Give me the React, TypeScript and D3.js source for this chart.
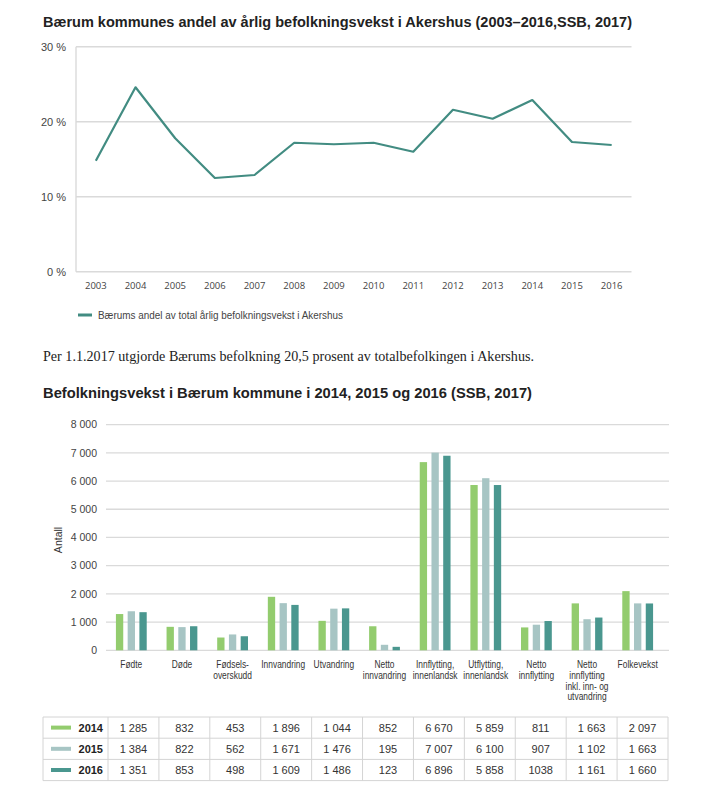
import React from 'react';
import * as d3 from 'd3';

// line chart data
const years = ['2003', '2004', '2005', '2006', '2007', '2008', '2009', '2010', '2011', '2012', '2013', '2014', '2015', '2016'];
const shareValues = [14.8, 24.6, 17.8, 12.5, 12.9, 17.2, 17.0, 17.2, 16.0, 21.6, 20.4, 22.9, 17.3, 16.9];
const shareTicks = [0, 10, 20, 30];

// bar chart data
const categories = [
  'Fødte', 'Døde', 'Fødselsoverskudd', 'Innvandring', 'Utvandring', 'Netto innvandring',
  'Innflytting, innenlandsk', 'Utflytting, innenlandsk', 'Netto innflytting',
  'Netto innflytting inkl. inn- og utvandring', 'Folkevekst',
];
const categoryLines = [
  ['Fødte'], ['Døde'], ['Fødsels-', 'overskudd'], ['Innvandring'], ['Utvandring'],
  ['Netto', 'innvandring'], ['Innflytting,', 'innenlandsk'], ['Utflytting,', 'innenlandsk'],
  ['Netto', 'innflytting'], ['Netto', 'innflytting', 'inkl. inn- og', 'utvandring'], ['Folkevekst'],
];
const seriesYears = ['2014', '2015', '2016'];
const values2014 = [1285, 832, 453, 1896, 1044, 852, 6670, 5859, 811, 1663, 2097];
const values2015 = [1384, 822, 562, 1671, 1476, 195, 7007, 6100, 907, 1102, 1663];
const values2016 = [1351, 853, 498, 1609, 1486, 123, 6896, 5858, 1038, 1161, 1660];
const countTicks = [0, 1000, 2000, 3000, 4000, 5000, 6000, 7000, 8000];
// the source table prints this one cell without a thousands space
const unspacedCells = ['2016:8'];

const seriesValues = [values2014, values2015, values2016];
const seriesColors = ['#93cc6e', '#a7c5c4', '#4a978f'];
const lineColor = '#428c82';
const gridColor = '#dadada';
const sans = '"Liberation Sans", Arial, sans-serif';

const nbFormat = d3.formatLocale({ decimal: ',', thousands: ' ', grouping: [3], currency: ['', ''] }).format(',d');

export default function App() {
  // ---- line chart scales
  const x = d3.scaleBand().domain(years).range([76, 631.5]);
  const y = d3.scaleLinear().domain([0, 30]).range([271.7, 46.8]);
  const line = d3.line<number>()
    .x((_, i) => (x(years[i]) || 0) + x.bandwidth() / 2)
    .y(d => y(d));

  // ---- bar chart scales
  const xb = d3.scaleBand().domain(categories).range([106, 663]);
  const xs = d3.scaleBand().domain(seriesYears).range([-15.4, 15.4]).paddingInner(0.376);
  const yb = d3.scaleLinear().domain([0, 8000]).range([650.3, 424.6]);

  // ---- table layout
  const tableTop = 717;
  const rowH = 21.2;
  const tableLeft = 43;
  const firstColRight = 108;
  const tableRight = 668;
  const colW = (tableRight - firstColRight) / categories.length;

  return (
    <div style={{ position: 'absolute', left: 0, top: 0 }}>
      <svg width={708} height={805} style={{ display: 'block', background: '#fff' }}>
        {/* ---------- chart 1 ---------- */}
        <text x={43} y={27} fontFamily={sans} fontWeight="bold" fontSize={15} fill="#222"
          textLength={589} lengthAdjust="spacingAndGlyphs">
          Bærum kommunes andel av årlig befolkningsvekst i Akershus (2003–2016,SSB, 2017)
        </text>

        {shareTicks.map(t => (
          <g key={t}>
            <line x1={76} x2={631.5} y1={y(t)} y2={y(t)} stroke={gridColor} strokeWidth={1.4} />
            <text x={66} y={y(t) + 4} textAnchor="end" fontFamily={sans} fontSize={11} fill="#444">
              {t} %
            </text>
          </g>
        ))}
        <line x1={76} x2={76} y1={y(30)} y2={y(0)} stroke={gridColor} strokeWidth={1.4} />

        {years.map(yr => (
          <text key={yr} x={(x(yr) || 0) + x.bandwidth() / 2} y={288.5} textAnchor="middle"
            fontFamily='"Open Sans", sans-serif' fontSize={9.5} fill="#444">
            {yr}
          </text>
        ))}

        <path d={line(shareValues) || ''} fill="none" stroke={lineColor} strokeWidth={2.2} strokeLinejoin="round" />

        <line x1={78} x2={92} y1={315} y2={315} stroke={lineColor} strokeWidth={3} />
        <text x={98} y={318.5} fontFamily={sans} fontSize={10} fill="#444" textLength={245} lengthAdjust="spacingAndGlyphs">
          Bærums andel av total årlig befolkningsvekst i Akershus
        </text>

        <text x={43} y={360.5} fontFamily='"Liberation Serif", "Times New Roman", serif' fontSize={15} fill="#222"
          textLength={491} lengthAdjust="spacingAndGlyphs">
          Per 1.1.2017 utgjorde Bærums befolkning 20,5 prosent av totalbefolkingen i Akershus.
        </text>

        {/* ---------- chart 2 ---------- */}
        <text x={43} y={398} fontFamily={sans} fontWeight="bold" fontSize={15} fill="#222"
          textLength={489} lengthAdjust="spacingAndGlyphs">
          Befolkningsvekst i Bærum kommune i 2014, 2015 og 2016 (SSB, 2017)
        </text>

        {countTicks.map(t => (
          <g key={t}>
            <line x1={106} x2={669} y1={yb(t)} y2={yb(t)} stroke={gridColor} strokeWidth={1.3} />
            <text x={97} y={yb(t) + 3.8} textAnchor="end" fontFamily={sans} fontSize={10.5} fill="#444">
              {nbFormat(t)}
            </text>
          </g>
        ))}

        <text transform="translate(62,540) rotate(-90)" textAnchor="middle" fontFamily={sans} fontSize={10.5} fill="#333">
          Antall
        </text>

        {categories.map((c, ci) => (
          <g key={c} transform={`translate(${(xb(c) || 0) + xb.bandwidth() / 2},0)`}>
            {seriesYears.map((s, si) => (
              <rect key={s} x={xs(s) || 0} width={xs.bandwidth()} y={yb(seriesValues[si][ci])}
                height={yb(0) - yb(seriesValues[si][ci])} fill={seriesColors[si]} />
            ))}
            {/* condensed look of the original labels */}
            <g transform="scale(0.8,1)">
              {categoryLines[ci].map((ln, li) => (
                <text key={li} x={0} y={668.5 + li * 10.6} textAnchor="middle" fontFamily={sans} fontSize={10.5} fill="#333">
                  {ln}
                </text>
              ))}
            </g>
          </g>
        ))}

        {/* ---------- table ---------- */}
        {seriesYears.map((s, si) => {
          const top = tableTop + si * rowH;
          const mid = top + rowH / 2;
          return (
            <g key={s}>
              <rect x={51} y={mid - 2} width={20} height={4} fill={seriesColors[si]} />
              <text x={103} y={mid + 4} textAnchor="end" fontFamily={sans} fontWeight="bold" fontSize={11} fill="#222">
                {s}
              </text>
              {seriesValues[si].map((v, ci) => (
                <text key={ci} x={firstColRight + colW * (ci + 0.5)} y={mid + 4} textAnchor="middle"
                  fontFamily={sans} fontSize={11} fill="#333">
                  {unspacedCells.includes(`${s}:${ci}`) ? String(v) : nbFormat(v)}
                </text>
              ))}
            </g>
          );
        })}
        {d3.range(seriesYears.length + 1).map(r => (
          <line key={`h${r}`} x1={tableLeft} x2={tableRight} y1={tableTop + r * rowH} y2={tableTop + r * rowH}
            stroke="#d4d4d4" strokeWidth={1} />
        ))}
        {[tableLeft, firstColRight, ...categories.map((_, ci) => firstColRight + colW * (ci + 1))].map((cx, i) => (
          <line key={`v${i}`} x1={cx} x2={cx} y1={tableTop} y2={tableTop + rowH * seriesYears.length}
            stroke="#d4d4d4" strokeWidth={1} />
        ))}
      </svg>
    </div>
  );
}
